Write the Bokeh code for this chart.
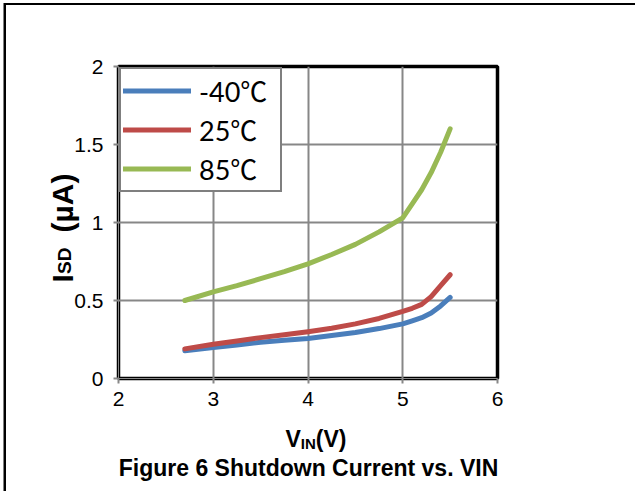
import math
from bokeh.plotting import figure
from bokeh.models import Range1d, FixedTicker, Legend, LegendItem, Label, InlineStyleSheet
from bokeh.embed import file_html
from bokeh.resources import INLINE

# ---- data ----
vin = [2.7, 3.0, 3.25, 3.5, 3.75, 4.0, 4.25, 4.5, 4.75, 5.0, 5.1, 5.2, 5.3, 5.4, 5.5]
isd_m40 = [0.178, 0.198, 0.215, 0.232, 0.245, 0.257, 0.275, 0.295, 0.32, 0.35, 0.37, 0.39, 0.42, 0.465, 0.52]
isd_25 = [0.19, 0.22, 0.24, 0.262, 0.28, 0.30, 0.322, 0.35, 0.385, 0.43, 0.45, 0.475, 0.525, 0.595, 0.665]
isd_85 = [0.50, 0.555, 0.595, 0.64, 0.685, 0.735, 0.795, 0.86, 0.94, 1.03, 1.12, 1.21, 1.32, 1.45, 1.60]
series_names = ["-40℃", "25℃", "85℃"]
series_colors = ["#4A7EBB", "#BE4B48", "#98B954"]
x_ticks = [2, 3, 4, 5, 6]
y_ticks = [0, 0.5, 1, 1.5, 2]
y_tick_labels = ["0", "0.5", "1", "1.5", "2"]

FONT = "Liberation Sans"
GRID = "#878787"
W, H = 635, 491
FL, FR, FT, FB = 118, 497, 66, 378
X0, X1, Y0, Y1 = 2, 6, 0, 2

def dx(sx):
    return X0 + (sx - FL) * (X1 - X0) / (FR - FL)

def dy(sy):
    return Y0 + (FB - sy) * (Y1 - Y0) / (FB - FT)

p = figure(width=W, height=H, x_range=Range1d(X0, X1), y_range=Range1d(Y0, Y1),
           output_backend="svg", toolbar_location=None,
           min_border_left=FL, min_border_right=W - FR, min_border_top=FT, min_border_bottom=H - FB)
p.background_fill_color = "white"
p.border_fill_alpha = 0
p.outline_line_color = "black"
p.outline_line_width = 3.5

# page-like outer border (left and top edges only), drawn as inset shadows on the host
p.stylesheets = [InlineStyleSheet(css=(
    ":host { background-color: #ffffff; "
    "box-shadow: inset 3.5px 3px 0 0 #ffffff, inset 6px 5px 0 0 #000000; }"))]

for ax, ticks in ((p.xaxis, x_ticks), (p.yaxis, y_ticks)):
    ax.ticker = FixedTicker(ticks=ticks)
    ax.axis_line_color = GRID
    ax.axis_line_width = 1
    ax.major_tick_line_color = GRID
    ax.major_tick_line_width = 2
    ax.major_tick_out = 5
    ax.major_tick_in = 0
    ax.minor_tick_line_color = None
    ax.major_label_text_font = FONT
    ax.major_label_text_font_size = "21px"
    ax.major_label_text_color = "black"
p.yaxis.major_label_overrides = {float(t): s for t, s in zip(y_ticks, y_tick_labels)}
p.xaxis.major_label_standoff = 8
p.yaxis.major_label_standoff = 10

p.grid.grid_line_color = GRID
p.grid.grid_line_width = 2
p.xgrid.ticker = FixedTicker(ticks=x_ticks)
p.ygrid.ticker = FixedTicker(ticks=y_ticks)

renderers = []
for ys, c in zip([isd_m40, isd_25, isd_85], series_colors):
    r = p.line(vin, ys, line_color=c, line_width=5, line_cap="round", line_join="round")
    renderers.append(r)

legend = Legend(items=[LegendItem(label=n, renderers=[r]) for n, r in zip(series_names, renderers)],
                location="top_left", margin=1, padding=2, spacing=0,
                glyph_width=68, glyph_height=37, label_height=37, label_width=79,
                label_standoff=8, label_text_font="Lato, Noto Sans CJK SC", label_text_font_size="27px",
                label_text_color="black",
                border_line_color="black", border_line_width=2,
                background_fill_color="white", background_fill_alpha=1.0)
p.add_layout(legend)

# texts placed in side panels (data units -> absolute canvas position, no frame clipping)
def lab(side, text, sx, sy, size, angle=0.0, align="left"):
    p.add_layout(Label(x=dx(sx), y=dy(sy), text=text,
                       text_font=FONT, text_font_style="bold", text_font_size=size,
                       text_color="black", text_align=align, text_baseline="alphabetic",
                       angle=angle), side)

# figure caption
lab("below", "Figure 6 Shutdown Current vs. VIN", 308, 467, "23px", align="center")
# x axis title V_IN(V)
lab("right", "V", 285, 438, "23px")
lab("above", "IN", 300.3, 443, "15px")
lab("right", "(V)", 315.3, 438, "23px")
# y axis title I_SD (µA)
a = math.pi / 2
lab("left", "I", 62, 282, "30px", a)
lab("left", "SD", 64, 273.5, "19px", a)
lab("right", "(µA)", 62, 232, "30px", a)

open("out.html", "w").write(file_html(p, INLINE))
